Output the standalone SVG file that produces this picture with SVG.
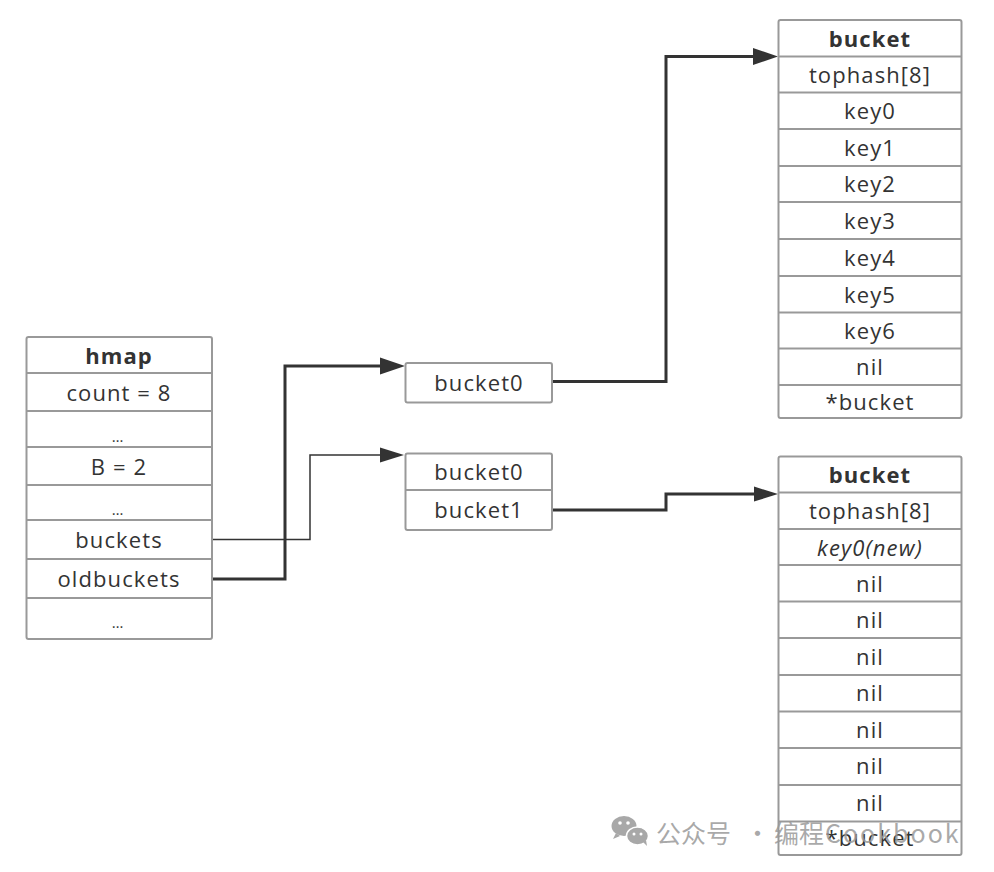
<svg xmlns="http://www.w3.org/2000/svg" width="994" height="872" viewBox="0 0 994 872">
<style>
.box{fill:#fff;stroke:#999;stroke-width:2}
.div{stroke:#999;stroke-width:2}
.t{font-family:"Open Sans","Noto Sans",sans-serif;font-size:22px;fill:#333;text-anchor:middle;letter-spacing:1.1px}
.b{font-weight:bold}
.i{font-style:italic}
.dots{font-family:"Open Sans",sans-serif;font-size:15px;fill:#333;text-anchor:middle;letter-spacing:1px}
.c{fill:none;stroke:#333}
.wm{font-family:"Noto Sans CJK SC","Noto Sans",sans-serif;font-size:25px;fill:#9a9a9a;fill-opacity:0.85}
</style>
<defs>
<marker id="ah" markerUnits="userSpaceOnUse" markerWidth="26" markerHeight="18" refX="5" refY="8.5" orient="auto" viewBox="0 0 26 17">
<path d="M0,0 L25,8.5 L0,17 z" fill="#333"/>
</marker>
<marker id="ah2" markerUnits="userSpaceOnUse" markerWidth="25" markerHeight="16" refX="5" refY="7.5" orient="auto" viewBox="0 0 25 15">
<path d="M0,0 L24,7.5 L0,15 z" fill="#333"/>
</marker>
</defs>
<rect width="994" height="872" fill="#fff"/>

<g id="connectors">
<path class="c" stroke-width="1.5" stroke="#555" d="M212,539.5 H310 V455 H385" marker-end="url(#ah2)"/>
<path class="c" stroke-width="3" d="M212,579 H285 V366 H385" marker-end="url(#ah)"/>
<path class="c" stroke-width="3" d="M552,381.5 H666 V56.5 H758" marker-end="url(#ah)"/>
<path class="c" stroke-width="3" d="M552,510 H666 V494 H759" marker-end="url(#ah2)"/>
</g>

<g id="hmap">
<rect class="box" x="26.5" y="337" width="185.5" height="302" rx="2"/>
<line class="div" x1="26.5" y1="373" x2="212" y2="373"/>
<line class="div" x1="26.5" y1="411" x2="212" y2="411"/>
<line class="div" x1="26.5" y1="447" x2="212" y2="447"/>
<line class="div" x1="26.5" y1="485" x2="212" y2="485"/>
<line class="div" x1="26.5" y1="520" x2="212" y2="520"/>
<line class="div" x1="26.5" y1="559" x2="212" y2="559"/>
<line class="div" x1="26.5" y1="598" x2="212" y2="598"/>
<text class="t b" x="119" y="364">hmap</text>
<text class="t" x="119" y="401">count = 8</text>
<text class="dots" x="118" y="442">…</text>
<text class="t" x="119" y="475">B = 2</text>
<text class="dots" x="118" y="515">…</text>
<text class="t" x="119" y="548">buckets</text>
<text class="t" x="119" y="587">oldbuckets</text>
<text class="dots" x="118" y="628">…</text>
</g>

<g id="buckets-array">
<rect class="box" x="405.5" y="363" width="146.5" height="39.5" rx="2"/>
<text class="t" x="479" y="391">bucket0</text>
</g>

<g id="oldbuckets-array">
<rect class="box" x="405.5" y="453.5" width="146.5" height="76.5" rx="2"/>
<line class="div" x1="405.5" y1="490" x2="552" y2="490"/>
<text class="t" x="479" y="480">bucket0</text>
<text class="t" x="479" y="518">bucket1</text>
</g>

<g id="bucket-new">
<rect class="box" x="778.5" y="20" width="183" height="398" rx="2"/>
<line class="div" x1="778.5" y1="56.5" x2="961.5" y2="56.5"/>
<line class="div" x1="778.5" y1="92.5" x2="961.5" y2="92.5"/>
<line class="div" x1="778.5" y1="129" x2="961.5" y2="129"/>
<line class="div" x1="778.5" y1="166" x2="961.5" y2="166"/>
<line class="div" x1="778.5" y1="202" x2="961.5" y2="202"/>
<line class="div" x1="778.5" y1="239" x2="961.5" y2="239"/>
<line class="div" x1="778.5" y1="276" x2="961.5" y2="276"/>
<line class="div" x1="778.5" y1="312.5" x2="961.5" y2="312.5"/>
<line class="div" x1="778.5" y1="348.5" x2="961.5" y2="348.5"/>
<line class="div" x1="778.5" y1="385" x2="961.5" y2="385"/>
<text class="t b" x="870" y="47">bucket</text>
<text class="t" x="870" y="83">tophash[8]</text>
<text class="t" x="870" y="119">key0</text>
<text class="t" x="870" y="156">key1</text>
<text class="t" x="870" y="192">key2</text>
<text class="t" x="870" y="229">key3</text>
<text class="t" x="870" y="266">key4</text>
<text class="t" x="870" y="303">key5</text>
<text class="t" x="870" y="339">key6</text>
<text class="t" x="870" y="375">nil</text>
<text class="t" x="870" y="410">*bucket</text>
</g>

<g id="bucket-old">
<rect class="box" x="778.5" y="456.5" width="183" height="398.5" rx="2"/>
<line class="div" x1="778.5" y1="492.5" x2="961.5" y2="492.5"/>
<line class="div" x1="778.5" y1="529" x2="961.5" y2="529"/>
<line class="div" x1="778.5" y1="565" x2="961.5" y2="565"/>
<line class="div" x1="778.5" y1="601.5" x2="961.5" y2="601.5"/>
<line class="div" x1="778.5" y1="638" x2="961.5" y2="638"/>
<line class="div" x1="778.5" y1="675" x2="961.5" y2="675"/>
<line class="div" x1="778.5" y1="711.5" x2="961.5" y2="711.5"/>
<line class="div" x1="778.5" y1="748" x2="961.5" y2="748"/>
<line class="div" x1="778.5" y1="785" x2="961.5" y2="785"/>
<line class="div" x1="778.5" y1="821.5" x2="961.5" y2="821.5"/>
<text class="t b" x="870" y="483">bucket</text>
<text class="t" x="870" y="519">tophash[8]</text>
<text class="t i" x="870" y="556">key0(new)</text>
<text class="t" x="870" y="592">nil</text>
<text class="t" x="870" y="628">nil</text>
<text class="t" x="870" y="665">nil</text>
<text class="t" x="870" y="701">nil</text>
<text class="t" x="870" y="738">nil</text>
<text class="t" x="870" y="774">nil</text>
<text class="t" x="870" y="811">nil</text>
<text class="t" x="870" y="846">*bucket</text>
</g>

<g id="watermark">
<ellipse cx="624" cy="826" rx="12.5" ry="10" fill="#a8a8a8"/>
<path d="M616,833 l-3,6 l7,-3 z" fill="#a8a8a8"/>
<ellipse cx="637.5" cy="836" rx="11" ry="9" fill="#a8a8a8" stroke="#fff" stroke-width="1.5"/>
<path d="M643,842 l4,4 l-1,-6 z" fill="#a8a8a8"/>
<circle cx="620" cy="823" r="1.8" fill="#fff"/>
<circle cx="628" cy="823" r="1.8" fill="#fff"/>
<circle cx="634" cy="834" r="1.5" fill="#fff"/>
<circle cx="641" cy="834" r="1.5" fill="#fff"/>
<text class="wm" y="843"><tspan x="656">公众号</tspan><tspan x="745">·</tspan><tspan x="774">编程</tspan><tspan x="825" letter-spacing="2">Cookbook</tspan></text>
</g>
</svg>
